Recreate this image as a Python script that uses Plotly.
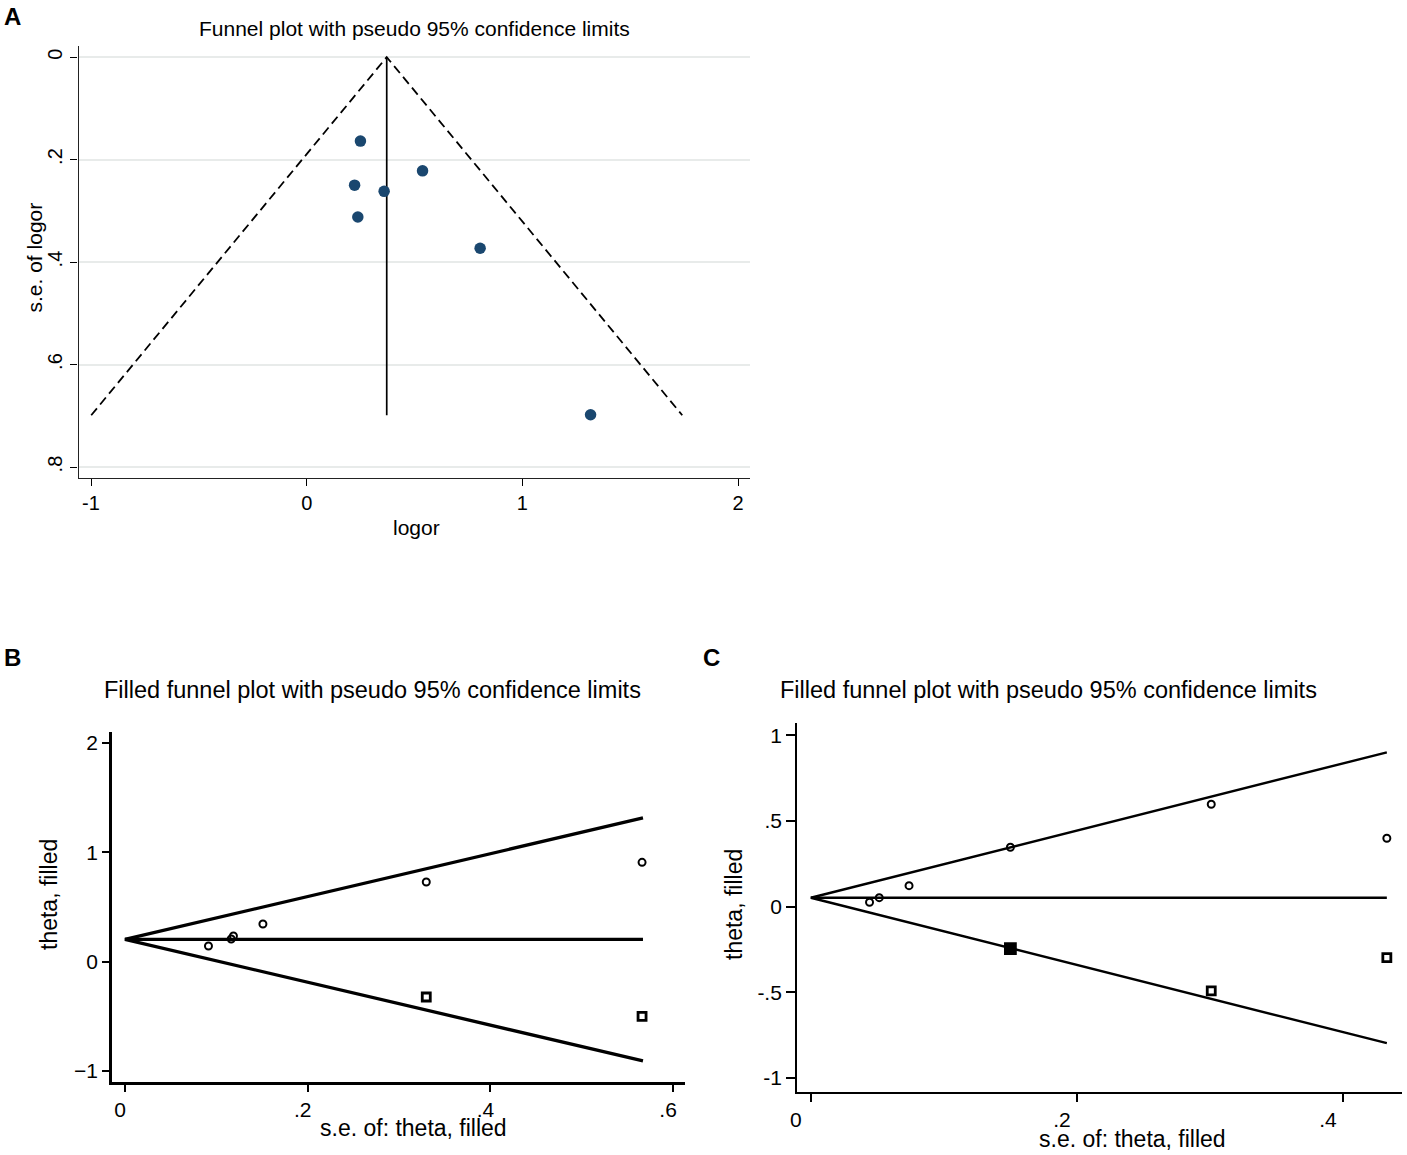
import plotly.graph_objects as go

# ---------------- data ----------------
# Panel A: funnel plot
a_logor = [0.249, 0.537, 0.222, 0.359, 0.237, 0.804, 1.316]
a_se = [0.164, 0.222, 0.250, 0.262, 0.312, 0.373, 0.698]
a_theta = 0.371
a_se_max = 0.699
a_xticks = [-1, 0, 1, 2]
a_xticktext = ["-1", "0", "1", "2"]
a_yticks = [0, 0.2, 0.4, 0.6, 0.8]
a_yticktext = ["0", ".2", ".4", ".6", ".8"]

# Panel B: filled funnel plot
b_se_obs = [0.0914, 0.1163, 0.1187, 0.151, 0.3298, 0.566]
b_theta_obs = [0.144, 0.208, 0.235, 0.345, 0.729, 0.909]
b_se_fill = [0.3298, 0.566]
b_theta_fill = [-0.323, -0.500]
b_theta = 0.204
b_se_max = 0.567
b_xticks = [0, 0.2, 0.4, 0.6]
b_xticktext = ["0", ".2", ".4", ".6"]
b_yticks = [-1, 0, 1, 2]
b_yticktext = ["\u22121", "0", "1", "2"]

# Panel C: filled funnel plot
c_se_obs = [0.0441, 0.0514, 0.0738, 0.150, 0.301, 0.433]
c_theta_obs = [0.0257, 0.0525, 0.1226, 0.347, 0.598, 0.399]
c_se_fill = [0.150, 0.301, 0.433]
c_theta_fill = [-0.245, -0.492, -0.298]
c_theta = 0.052
c_se_max = 0.433
c_xticks = [0, 0.2, 0.4]
c_xticktext = ["0", ".2", ".4"]
c_yticks = [-1, -0.5, 0, 0.5, 1]
c_yticktext = ["-1", "-.5", "0", ".5", "1"]

Z = 1.96
W, H = 1407, 1155
FONT = "Liberation Sans, Arial, sans-serif"

def px(x):
    return x / W

def py(y):
    return 1 - y / H

fig = go.Figure()

# ---- Panel A ----
fig.add_trace(go.Scatter(
    x=[a_theta - Z * a_se_max, a_theta, a_theta + Z * a_se_max],
    y=[a_se_max, 0, a_se_max], mode="lines",
    line=dict(color="black", width=1.8, dash="9px,5px"),
    xaxis="x", yaxis="y", showlegend=False, hoverinfo="skip"))
fig.add_trace(go.Scatter(
    x=[a_theta, a_theta], y=[0, a_se_max], mode="lines",
    line=dict(color="black", width=1.7),
    xaxis="x", yaxis="y", showlegend=False, hoverinfo="skip"))
fig.add_trace(go.Scatter(
    x=a_logor, y=a_se, mode="markers",
    marker=dict(color="#1a476f", size=11.5),
    xaxis="x", yaxis="y", showlegend=False))

# ---- Panel B ----
fig.add_trace(go.Scatter(
    x=[b_se_max, 0, b_se_max],
    y=[b_theta + Z * b_se_max, b_theta, b_theta - Z * b_se_max],
    mode="lines", line=dict(color="black", width=3.3),
    xaxis="x2", yaxis="y2", showlegend=False, hoverinfo="skip"))
fig.add_trace(go.Scatter(
    x=[0, b_se_max], y=[b_theta, b_theta], mode="lines",
    line=dict(color="black", width=3.3),
    xaxis="x2", yaxis="y2", showlegend=False, hoverinfo="skip"))
fig.add_trace(go.Scatter(
    x=b_se_obs, y=b_theta_obs, mode="markers",
    marker=dict(symbol="circle-open", size=7, color="black", line=dict(width=2)),
    xaxis="x2", yaxis="y2", showlegend=False))
fig.add_trace(go.Scatter(
    x=b_se_fill, y=b_theta_fill, mode="markers",
    marker=dict(symbol="square-open", size=8, color="black", line=dict(width=2.8)),
    xaxis="x2", yaxis="y2", showlegend=False))

# ---- Panel C ----
fig.add_trace(go.Scatter(
    x=[c_se_max, 0, c_se_max],
    y=[c_theta + Z * c_se_max, c_theta, c_theta - Z * c_se_max],
    mode="lines", line=dict(color="black", width=2.4),
    xaxis="x3", yaxis="y3", showlegend=False, hoverinfo="skip"))
fig.add_trace(go.Scatter(
    x=[0, c_se_max], y=[c_theta, c_theta], mode="lines",
    line=dict(color="black", width=2.4),
    xaxis="x3", yaxis="y3", showlegend=False, hoverinfo="skip"))
fig.add_trace(go.Scatter(
    x=c_se_obs, y=c_theta_obs, mode="markers",
    marker=dict(symbol="circle-open", size=7, color="black", line=dict(width=2)),
    xaxis="x3", yaxis="y3", showlegend=False))
fig.add_trace(go.Scatter(
    x=c_se_fill, y=c_theta_fill, mode="markers",
    marker=dict(symbol=["square", "square-open", "square-open"],
                size=[10, 8, 8], color="black", opacity=1,
                line=dict(width=2.8, color="black")),
    xaxis="x3", yaxis="y3", showlegend=False))

tickfont_a = dict(family=FONT, size=20, color="black")
tickfont_bc = dict(family=FONT, size=21, color="black")

common = dict(showgrid=False, zeroline=False, showline=True, ticks="outside",
              tickcolor="black", linecolor="black", automargin=False)

fig.update_layout(
    width=W, height=H,
    margin=dict(l=0, r=0, t=0, b=0, pad=0, autoexpand=False),
    paper_bgcolor="white", plot_bgcolor="white",
    showlegend=False,
    xaxis=dict(common, domain=[px(78.5), px(750.4)], range=[-1.058, 2.057],
               tickvals=a_xticks, ticktext=a_xticktext, tickfont=tickfont_a,
               ticklen=7, tickwidth=1.3, linewidth=1.3, linecolor="#222",
               anchor="y"),
    yaxis=dict(common, domain=[py(478.3), py(45.5)], range=[0.822, -0.0226],
               tickvals=a_yticks, ticktext=a_yticktext, tickfont=tickfont_a,
               tickangle=-90, showgrid=True, gridcolor="#e8ebea", gridwidth=1.5,
               ticklen=7, tickwidth=1.3, linewidth=1.3, linecolor="#222",
               anchor="x"),
    xaxis2=dict(common, domain=[px(112), px(685)], range=[-0.0142, 0.613],
                tickvals=b_xticks, ticktext=b_xticktext, tickfont=tickfont_bc,
                ticklen=7, tickwidth=2.4, linewidth=2.8, ticklabelshift=-5,
                anchor="y2"),
    yaxis2=dict(common, domain=[py(1082), py(731.7)], range=[-1.1006, 2.104],
                tickvals=b_yticks, ticktext=b_yticktext, tickfont=tickfont_bc,
                ticklen=7, tickwidth=2.4, linewidth=2.8,
                anchor="x2"),
    xaxis3=dict(common, domain=[px(797.3), px(1402)], range=[-0.0102, 0.4444],
                tickvals=c_xticks, ticktext=c_xticktext, tickfont=tickfont_bc,
                ticklen=8, tickwidth=2.2, linewidth=2.4, ticklabelshift=-15,
                anchor="y3"),
    yaxis3=dict(common, domain=[py(1091.7), py(723)], range=[-1.080, 1.072],
                tickvals=c_yticks, ticktext=c_yticktext, tickfont=tickfont_bc,
                ticklen=9, tickwidth=2.2, linewidth=2.4,
                anchor="x3"),
)

def ann(text, x, y, size, angle=0, bold=False):
    fig.add_annotation(
        text=f"<b>{text}</b>" if bold else text,
        x=px(x), y=py(y), xref="paper", yref="paper",
        xanchor="center", yanchor="middle", showarrow=False, textangle=angle,
        font=dict(family=FONT, size=size, color="black"))

# panel letters
ann("A", 12, 16, 24, bold=True)
ann("B", 12, 657, 24, bold=True)
ann("C", 712, 657, 24, bold=True)

# titles
ann("Funnel plot with pseudo 95% confidence limits", 414.5, 28, 21)
ann("Filled funnel plot with pseudo 95% confidence limits", 372.8, 690, 23.5)
ann("Filled funnel plot with pseudo 95% confidence limits", 1048.4, 690, 23.5)

# axis titles
ann("logor", 416, 527, 21)
ann("s.e. of logor", 34, 257.5, 21, angle=-90)
ann("s.e. of: theta, filled", 413, 1128, 23)
ann("theta, filled", 49, 895, 23, angle=-90)
ann("s.e. of: theta, filled", 1132, 1139, 23)
ann("theta, filled", 734, 905, 23, angle=-90)

fig.write_html("out.html", config={"displayModeBar": False},
               post_script="document.body.style.margin='0';document.body.style.overflow='hidden';")
